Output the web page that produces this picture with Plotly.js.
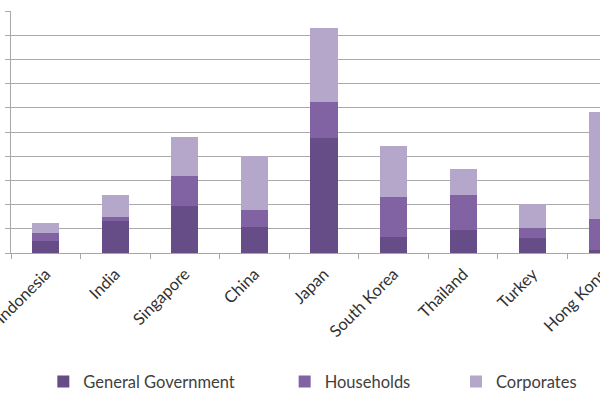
<!DOCTYPE html>
<html>
<head>
<meta charset="utf-8">
<script src="https://cdn.plot.ly/plotly-3.0.1.min.js"></script>
<style>
html,body{margin:0;padding:0;overflow:hidden;background:#fff;}
#chart{width:640px;height:400px;}
</style>
</head>
<body>
<div id="chart"></div>
<script>
var countries = ["Indonesia","India","Singapore","China","Japan","South Korea","Thailand","Turkey","Hong Kong"];
var generalGovernment = [25, 66, 98, 54, 237, 34, 47, 32, 6];
var households = [17, 8, 61, 34, 75, 82, 73, 19, 64];
var corporates = [21, 46, 80, 112, 152, 105, 53, 51, 221];
var seriesNames = ["General Government","Households","Corporates"];
var colors = ["#664d88","#8163a3","#b5a7c9"];
var legendX = [0.0677, 0.4448, 0.7125];

var allSeries = [generalGovernment, households, corporates];
var legendIds = ["legend","legend2","legend3"];
var traces = allSeries.map(function(vals, i){
  return {
    type: "bar",
    name: seriesNames[i],
    x: countries,
    y: vals,
    marker: {color: colors[i], line: {width: 0}},
    legend: legendIds[i],
    hoverinfo: "x+y+name"
  };
});

function legendCfg(x){
  return {
    orientation: "h",
    xref: "container", yref: "container",
    x: x, y: 0.0455, xanchor: "left", yanchor: "middle",
    font: {family: "Lato, 'Open Sans', sans-serif", size: 16.5, color: "#404040"},
    bgcolor: "rgba(0,0,0,0)",
    itemwidth: 30
  };
}

var layout = {
  width: 640, height: 400,
  barmode: "stack",
  bargap: 0.61,
  margin: {l: 11, r: 3, t: 11, b: 147},
  paper_bgcolor: "#fff",
  plot_bgcolor: "#fff",
  showlegend: true,
  legend: legendCfg(legendX[0]),
  legend2: legendCfg(legendX[1]),
  legend3: legendCfg(legendX[2]),
  xaxis: {
    type: "category",
    tickangle: -45,
    tickson: "boundaries",
    ticks: "outside", ticklen: 5, tickcolor: "#a6a6a6",
    ticklabelstandoff: 4,
    showline: true, linecolor: "#a6a6a6", linewidth: 1,
    showgrid: false,
    tickfont: {family: "Lato, 'Open Sans', sans-serif", size: 16.5, color: "#303030"},
    automargin: false
  },
  yaxis: {
    range: [0, 500], dtick: 50,
    showgrid: true, gridcolor: "#a9a9a9", gridwidth: 1,
    showline: true, linecolor: "#a9a9a9", linewidth: 1,
    ticks: "outside", ticklen: 5, tickcolor: "#a9a9a9",
    showticklabels: false,
    zeroline: false,
    automargin: false
  }
};

Plotly.newPlot("chart", traces, layout, {displayModeBar: false, staticPlot: true});
</script>
</body>
</html>
